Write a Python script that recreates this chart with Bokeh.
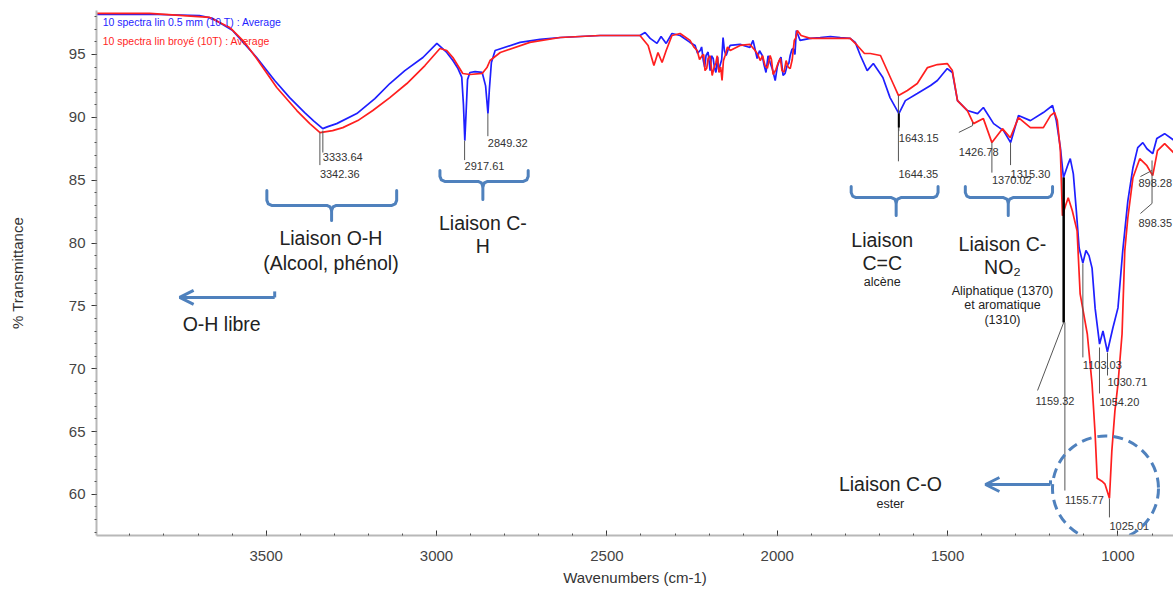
from bokeh.plotting import figure
from bokeh.models import Range1d, SingleIntervalTicker, Arrow, OpenHead
from bokeh.embed import file_html
from bokeh.resources import INLINE
from bokeh.core.properties import value

FONT = "Liberation Sans"

# ---------------- spectra (wavenumber cm-1, % transmittance) ----------------
blue_wn = [3998, 3842, 3696, 3657, 3598, 3528, 3475, 3431, 3387, 3360,
           3334, 3319, 3293, 3234, 3181, 3137, 3093, 3040, 2999, 2970,
           2952, 2937, 2926, 2921, 2917, 2913, 2909, 2902, 2887, 2866,
           2856, 2849, 2845, 2839, 2828, 2755, 2696, 2637, 2520, 2403,
           2388, 2373, 2353, 2341, 2326, 2309, 2285, 2256, 2241, 2226,
           2217, 2209, 2197, 2188, 2180, 2168, 2159, 2150, 2138, 2109,
           2080, 2071, 2059, 2044, 2033, 2021, 2006, 1994, 1983, 1971,
           1962, 1953, 1944, 1933, 1903, 1874, 1844, 1815, 1786, 1771,
           1756, 1736, 1718, 1690, 1669, 1643, 1624, 1589, 1550, 1530,
           1501, 1486, 1471, 1442, 1412, 1395, 1365, 1336, 1315, 1292,
           1257, 1219, 1192, 1181, 1169, 1160, 1146, 1140, 1131, 1122,
           1114, 1103, 1094, 1085, 1076, 1067, 1054, 1044, 1031, 1015,
           1000, 986, 971, 956, 942, 927, 915, 898, 886, 863,
           837]
blue_t = [98.19, 98.20, 98.10, 97.87, 96.90, 94.76, 92.93, 91.57, 90.38, 89.70,
          89.10, 89.26, 89.50, 90.30, 91.49, 92.69, 93.72, 94.76, 95.88, 95.16,
          94.52, 93.88, 93.20, 91.00, 88.15, 90.50, 93.00, 93.57, 93.64, 93.57,
          92.50, 90.30, 92.20, 94.36, 95.32, 95.96, 96.20, 96.35, 96.51, 96.51,
          96.75, 96.28, 95.88, 96.43, 95.88, 96.67, 96.51, 95.96, 95.72, 95.32,
          94.52, 94.92, 93.72, 94.68, 93.57, 94.12, 96.35, 94.92, 95.72, 95.80,
          95.56, 96.12, 94.68, 94.92, 93.57, 94.36, 92.93, 94.52, 93.33, 94.12,
          94.92, 95.48, 96.91, 96.12, 96.28, 96.35, 96.43, 96.35, 96.28, 95.96,
          94.92, 93.72, 94.28, 93.17, 91.57, 90.30, 91.33, 91.89, 92.53, 92.93,
          93.88, 93.57, 91.33, 90.54, 90.30, 90.78, 89.50, 88.94, 87.99, 90.14,
          89.74, 90.38, 90.94, 89.74, 87.59, 85.20, 86.30, 86.71, 85.50, 82.50,
          79.60, 78.40, 79.40, 79.00, 78.00, 74.80, 71.96, 73.00, 71.35, 73.24,
          74.84, 79.38, 83.36, 85.99, 87.59, 87.99, 87.50, 87.11, 88.31, 88.70,
          88.20]
# extra readings in the noisy 2250-1945 cm-1 band
blue_noise_wn = [2234, 2222, 2213, 2203, 2193, 2184, 2175, 2172, 2163, 2155,
                 2144, 2052, 2039, 2027, 2014, 2000, 1989, 1977, 1966, 1957, 1948]
blue_noise_t = [95.10, 95.60, 94.00, 95.20, 94.90, 93.90, 94.80, 93.80, 94.60, 95.30,
                95.40, 95.30, 94.20, 94.90, 93.80, 94.00, 94.80, 93.50, 94.30, 95.40,
                95.00]

red_wn = [3998, 3842, 3666, 3607, 3563, 3528, 3469, 3410, 3372, 3342,
          3305, 3275, 3231, 3187, 3137, 3087, 3034, 2990, 2970, 2952,
          2923, 2902, 2866, 2852, 2843, 2813, 2726, 2637, 2520, 2403,
          2379, 2362, 2350, 2338, 2326, 2309, 2285, 2256, 2235, 2220,
          2212, 2203, 2191, 2180, 2171, 2162, 2153, 2138, 2109, 2080,
          2065, 2050, 2036, 2021, 2012, 1997, 1986, 1974, 1962, 1950,
          1941, 1930, 1903, 1844, 1786, 1765, 1744, 1727, 1697, 1660,
          1644, 1618, 1589, 1559, 1530, 1501, 1486, 1471, 1442, 1424,
          1395, 1370, 1339, 1316, 1292, 1257, 1219, 1198, 1186, 1178,
          1169, 1163, 1154, 1146, 1134, 1120, 1111, 1090, 1076, 1067,
          1061, 1047, 1038, 1025, 1018, 1009, 1000, 988, 980, 971,
          956, 936, 915, 898, 884, 863, 837]
red_t = [98.27, 98.27, 97.95, 97.15, 95.96, 94.68, 92.37, 90.54, 89.50, 88.78,
         88.94, 89.18, 89.74, 90.54, 91.57, 92.69, 94.12, 95.48, 95.32, 94.76,
         93.49, 93.41, 93.49, 93.96, 94.52, 95.16, 95.96, 96.35, 96.51, 96.51,
         95.72, 94.12, 95.16, 94.36, 95.32, 96.51, 96.67, 96.12, 95.32, 94.92,
         93.72, 94.68, 93.33, 94.36, 93.57, 92.93, 94.92, 95.32, 95.72, 95.80,
         95.32, 94.52, 94.12, 94.92, 93.41, 94.36, 93.72, 94.52, 93.88, 96.12,
         96.91, 96.51, 96.28, 96.28, 96.28, 95.72, 95.08, 95.08, 94.92, 92.69,
         91.73, 92.13, 92.69, 93.96, 94.20, 94.28, 93.72, 91.33, 90.54, 89.50,
         89.90, 87.99, 89.10, 88.38, 89.98, 89.18, 89.18, 90.14, 90.38, 89.74,
         87.35, 82.17, 82.97, 83.60, 82.57, 80.97, 75.95, 72.76, 68.78, 64.79,
         61.29, 61.05, 60.81, 59.69, 63.44, 66.63, 68.78, 72.76, 79.38, 82.01,
         85.20, 86.71, 86.15, 85.36, 87.35, 87.91, 87.20]
red_noise_wn = [2245, 2228, 2216, 2207, 2197, 2186, 2176, 2166, 2158, 2146,
                2057, 2043, 2029, 2017, 2004, 1991, 1980, 1968, 1956, 1946]
red_noise_t = [95.60, 94.60, 95.00, 93.90, 94.90, 93.90, 94.90, 94.00, 94.50, 95.60,
               95.00, 94.90, 93.90, 94.60, 93.80, 94.70, 93.60, 94.00, 94.60, 96.30]

series_names = ["10 spectra lin 0.5 mm (10 T) : Average",
                "10 spectra lin broyé (10T) : Average"]

# peak labels: text, leader path (wn list, T list), text anchor (wn, T)
peak_text = ["3342.36", "3333.64", "2917.61", "2849.32", "1643.15", "1644.35",
             "1426.78", "1370.02", "1315.30", "898.28", "898.35", "1159.32",
             "1155.77", "1103.03", "1054.20", "1030.71", "1025.01"]
peak_path_x = [[3342.36, 3342.36], [3333.64, 3333.64], [2917.61, 2917.61],
               [2849.32, 2849.32], [1643.15, 1643.15], [1644.35, 1644.35],
               [1426.78, 1426.78, 1467], [1370.02, 1370.02], [1315.30, 1315.30],
               [900, 934], [900, 900, 934], [1159.32, 1159.32, 1236],
               [1155.77, 1155.77], [1103.03, 1103.03], [1054.20, 1054.20],
               [1030.71, 1030.71], [1025.01, 1025.01]]
peak_path_y = [[88.79, 86.2], [88.95, 87.2], [88.15, 86.6], [90.3, 88.5],
               [90.3, 88.9], [91.73, 86.5], [89.6, 89.34, 88.8], [87.99, 85.6],
               [87.99, 86.2], [85.77, 85.29], [86.57, 83.15, 82.35],
               [85.21, 73.68, 68.27], [73.68, 60.31], [78.37, 70.9],
               [71.69, 68.03], [71.29, 69.46], [59.68, 58.17]]
peak_tx = [3342.36, 3333.64, 2917.61, 2849.32, 1643.15, 1644.35, 1467,
           1370.02, 1315.30, 940, 940, 1242, 1155.77, 1103.03, 1054.20,
           1030.71, 1025.01]
peak_ty = [85.53, 86.81, 86.09, 87.92, 88.32, 85.53, 87.28, 84.98, 85.53,
           84.74, 81.56, 67.47, 59.52, 70.26, 67.39, 68.91, 57.45]

# group brackets: left wn, right wn, middle wn, top T, bar T, stem T
brackets = [(3498, 3117, 3308, 84.18, 82.99, 81.79),
            (2990, 2731, 2864, 85.77, 84.90, 83.46),
            (1783, 1528, 1651, 84.50, 83.62, 82.19),
            (1448, 1192, 1322, 84.50, 83.62, 82.19)]

# big annotation texts
big_text = ["Liaison O-H", "(Alcool, phénol)", "Liaison C-", "H", "Liaison", "C=C",
            "Liaison C-", "NO₂", "Liaison C-O"]
big_x = [3310, 3310, 2864, 2864, 1692, 1692, 1339, 1339, 1668]
big_y = [80.36, 78.45, 81.63, 79.73, 80.28, 78.45, 79.96, 78.13, 60.79]
small_text = ["alcène", "Aliphatique (1370)", "et aromatique", "(1310)", "ester"]
small_x = [1692, 1339, 1339, 1339, 1668]
small_y = [76.86, 76.15, 75.03, 73.84, 59.20]

ANN = "#4f81bd"


def merged(wn, t, wn2, t2):
    pts = sorted(zip(list(wn) + list(wn2), list(t) + list(t2)), key=lambda q: -q[0])
    return [q[0] for q in pts], [q[1] for q in pts]


bw, bt = merged(blue_wn, blue_t, blue_noise_wn, blue_noise_t)
rw, rt = merged(red_wn, red_t, red_noise_wn, red_noise_t)

p = figure(width=1173, height=590, output_backend="svg", toolbar_location=None,
           x_range=Range1d(3998, 837), y_range=Range1d(56.73, 98.5),
           min_border_left=96, min_border_right=0, min_border_top=10,
           min_border_bottom=55)
p.outline_line_color = None
p.xgrid.visible = False
p.ygrid.visible = False
p.background_fill_color = "white"

p.xaxis.ticker = SingleIntervalTicker(interval=500, num_minor_ticks=5)
p.yaxis.ticker = SingleIntervalTicker(interval=5, num_minor_ticks=5)
for ax in (p.xaxis, p.yaxis):
    ax.axis_line_color = "#b8b8b8"
    ax.axis_line_width = 2
    ax.major_tick_line_color = "#333333"
    ax.minor_tick_line_color = "#555555"
    ax.major_label_text_font = FONT
    ax.major_label_text_font_size = "15px"
    ax.major_label_text_color = "#444444"
    ax.axis_label_text_font = FONT
    ax.axis_label_text_font_style = "normal"
    ax.axis_label_text_color = "#333333"
    ax.axis_label_text_font_size = "15px"
p.xaxis.major_tick_in = 5
p.xaxis.major_tick_out = 0
p.xaxis.minor_tick_in = 2
p.xaxis.minor_tick_out = 0
p.xaxis.major_label_standoff = 15
p.xaxis.axis_label = "Wavenumbers (cm-1)"
p.xaxis.axis_label_standoff = 5
p.yaxis.major_tick_in = 0
p.yaxis.major_tick_out = 5
p.yaxis.minor_tick_in = 0
p.yaxis.minor_tick_out = 2
p.yaxis.major_label_standoff = 6
p.yaxis.axis_label = "% Transmittance"
p.yaxis.axis_label_standoff = 40

# spectra
p.line(bw, bt, line_color="#1f1fff", line_width=1.7)
p.line(rw, rt, line_color="#ff1f1f", line_width=1.7)

# legend texts
p.text(x=[3980, 3980], y=[97.55, 96.11], text=series_names,
       text_color=["#1f1fff", "#ff1f1f"], text_font=value(FONT),
       text_font_size="10.5px", text_baseline="middle", text_align="left")

# peak leader lines + labels
p.multi_line(peak_path_x, peak_path_y, line_color="#555555", line_width=1)
p.line([1159.32, 1159.32], [85.21, 73.68], line_color="black", line_width=2.5)
p.line([1643.15, 1643.15], [90.3, 89.2], line_color="black", line_width=2)
p.text(x=peak_tx, y=peak_ty, text=peak_text, text_font=value(FONT),
       text_font_size="11px", text_color="#333333", text_baseline="middle",
       text_align="left")

# brackets
dx, dy = 14, 0.4
bx, by = [], []
for xl, xr, xm, yt, yh, ys in brackets:
    bx.append([xl, xl, xl - 0.3 * dx, xl - dx, xm + dx, xm + 0.3 * dx, xm, xm])
    by.append([yt, yh + dy, yh + 0.3 * dy, yh, yh, yh - 0.3 * dy, yh - dy, ys])
    bx.append([xm, xm - 0.3 * dx, xm - dx, xr + dx, xr + 0.3 * dx, xr, xr])
    by.append([yh - dy, yh - 0.3 * dy, yh, yh, yh + 0.3 * dy, yh + dy, yt])
p.multi_line(bx, by, line_color=ANN, line_width=3, line_join="round", line_cap="round")

# arrows
arrows = [(3475, 3754, 75.67, 76.15), (1198, 1389, 60.79, 61.12)]
for xs, xe, ya, yt in arrows:
    p.line([xs, xs], [yt, ya], line_color=ANN, line_width=3)
    p.add_layout(Arrow(end=OpenHead(size=14, line_color=ANN, line_width=3),
                       x_start=xs, y_start=ya, x_end=xe, y_end=ya,
                       line_color=ANN, line_width=3))

# dashed ellipse
p.ellipse(x=[1036.6], y=[60.47], width=106, height=105, width_units="screen",
          height_units="screen", fill_color=None, line_color=ANN, line_width=3,
          line_dash="10 6")

# texts
p.text(x=big_x, y=big_y, text=big_text, text_font=value(FONT), text_font_size="19.5px",
       text_color="#222222", text_align="center", text_baseline="middle")
p.text(x=small_x, y=small_y, text=small_text, text_font=value(FONT),
       text_font_size="12.5px", text_color="#222222", text_align="center",
       text_baseline="middle")
p.text(x=[3745], y=[73.52], text=["O-H libre"], text_font=value(FONT),
       text_font_size="19.5px", text_color="#222222", text_align="left",
       text_baseline="middle")

open("out.html", "w").write(file_html(p, INLINE))
